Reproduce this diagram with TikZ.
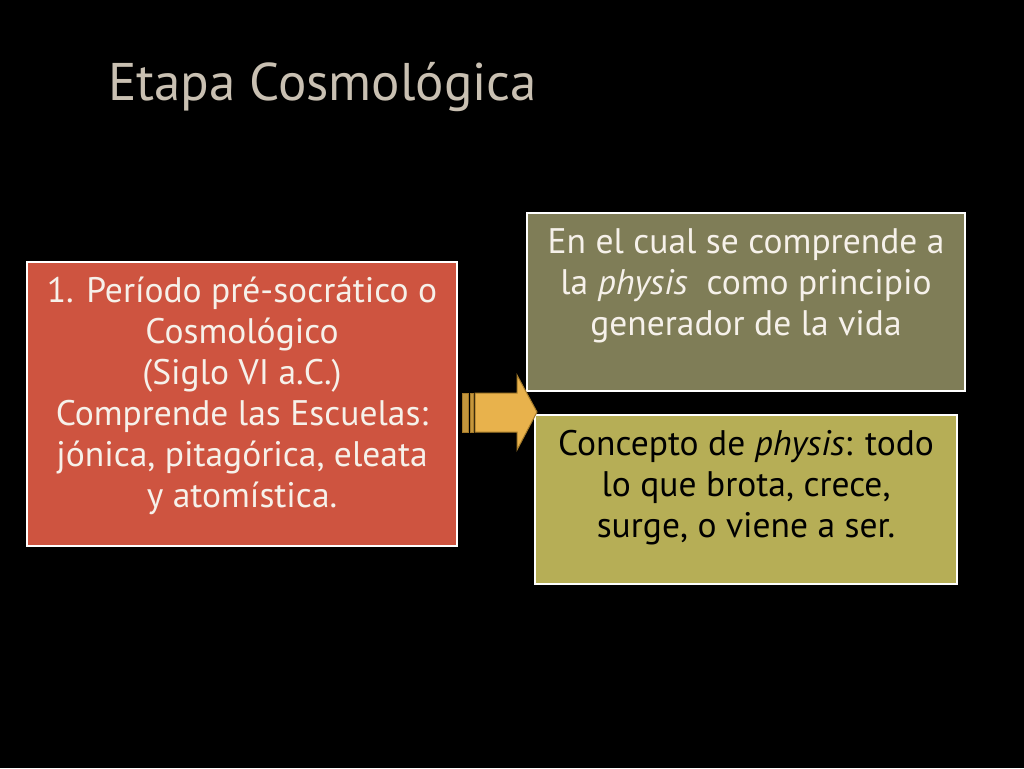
\documentclass[tikz,border=0pt]{standalone}
\usepackage{fontspec}
\setmainfont{PT Sans}
\usepackage{xcolor}
\usepackage{tikz}
\usetikzlibrary{positioning,calc}

\definecolor{titlegray}{HTML}{C9C0B2}
\definecolor{boxred}{HTML}{CE5440}
\definecolor{boxolive}{HTML}{7F7D57}
\definecolor{boxyellow}{HTML}{B6AE56}
\definecolor{arrowgold}{HTML}{E8B24C}
\definecolor{arrowdark}{HTML}{C4963C}
\definecolor{arrowline}{HTML}{A47A2A}
\definecolor{textwhite}{HTML}{F6F1EA}

\begin{document}
\begin{tikzpicture}[x=1pt, y=1pt, outer sep=0pt,
    box/.style={draw=white, line width=2pt, rectangle, inner sep=0pt},
    boxtext/.style={align=center, inner sep=0pt, font=\fontsize{35.5}{41}\selectfont}]
    \fill[black] (0,0) rectangle (1024,-768);
    \useasboundingbox (0,0) rectangle (1024,-768);

    \node [anchor=base west, text=titlegray, inner sep=0pt, font=\fontsize{53}{60}\selectfont] (title) at (108,-100) {Etapa Cosmológica};

    \node [box, fill=boxred, minimum width=430pt, minimum height=284pt] (periodo) at (242,-404) {};
    \node [boxtext, text=textwhite] (periodotext) at (242,-396) {1. Período pré-socrático o\\Cosmológico\\(Siglo VI a.C.)\\Comprende las Escuelas:\\jónica, pitagórica, eleata\\y atomística.};

    \node [box, fill=boxolive, minimum width=438pt, minimum height=178pt] (cual) at (746,-302) {};
    \node [boxtext, text=textwhite] (cualtext) at (746,-286) {En el cual se comprende a\\la \textit{physis}\ \ como principio\\generador de la vida};

    \node [box, fill=boxyellow, minimum width=422pt, minimum height=169pt] (concepto) at (746,-499.5) {};
    \node [boxtext, text=black] (conceptotext) at (746,-488) {Concepto de \textit{physis}: todo\\lo que brota, crece,\\surge, o viene a ser.};

    % striped arrow
    \filldraw[fill=arrowdark, draw=arrowline, line width=0.6pt] (462,-393) rectangle (468,-432);
    \filldraw[fill=arrowdark, draw=arrowline, line width=0.6pt] (470,-393) rectangle (473,-432);
    \filldraw[fill=arrowgold, draw=arrowline, line width=1pt]
        (475,-393) -- (517,-393) -- (517,-375) -- (537,-412) -- (517,-450) -- (517,-432) -- (475,-432) -- cycle;
\end{tikzpicture}
\end{document}
